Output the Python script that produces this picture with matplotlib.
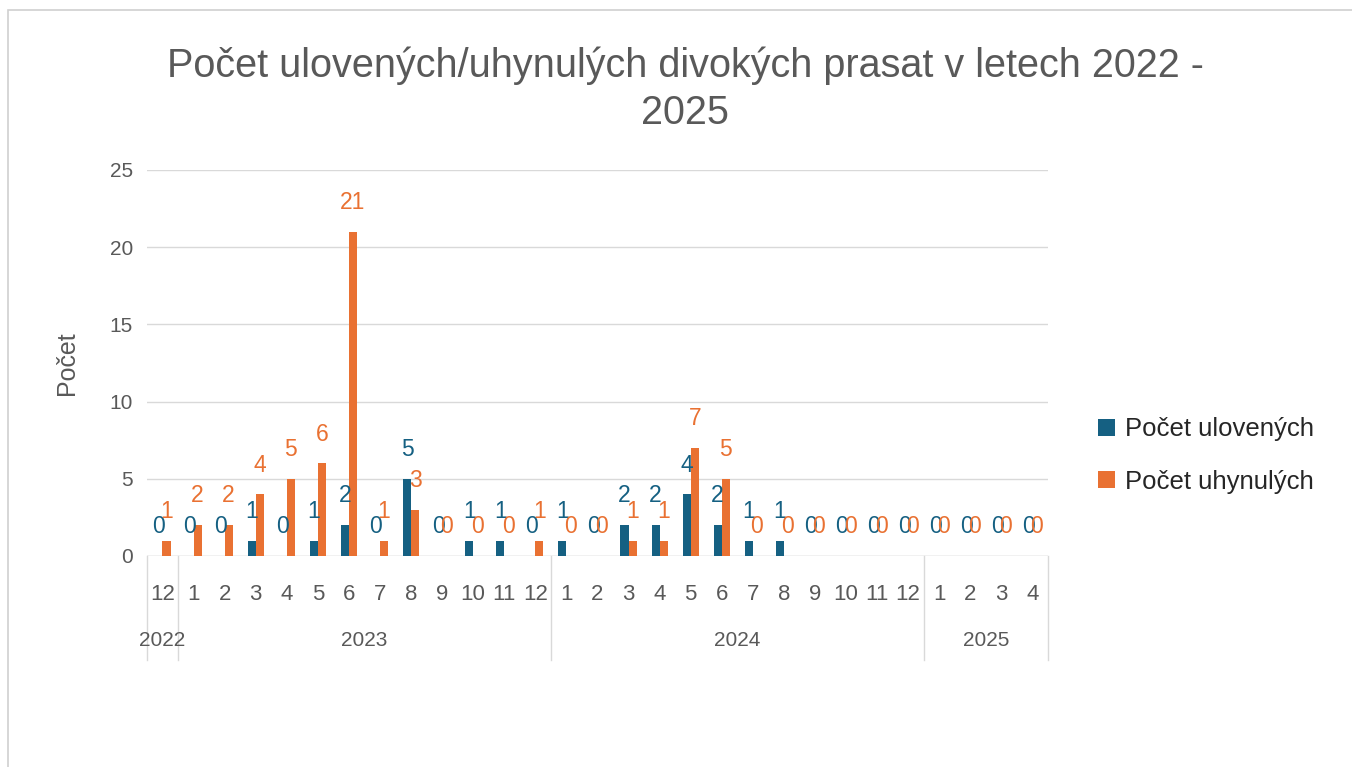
import matplotlib.pyplot as plt
from matplotlib.patches import Rectangle
import numpy as np

# data
mesice = ["12", "1", "2", "3", "4", "5", "6", "7", "8", "9", "10", "11", "12",
          "1", "2", "3", "4", "5", "6", "7", "8", "9", "10", "11", "12",
          "1", "2", "3", "4"]
roky = ["2022", "2023", "2024", "2025"]
pocty_mesicu = [1, 12, 12, 4]

uloveno = [0, 0, 0, 1, 0, 1, 2, 0, 5, 0, 1, 1, 0,
           1, 0, 2, 2, 4, 2, 1, 1, 0, 0, 0, 0,
           0, 0, 0, 0]
uhynulo = [1, 2, 2, 4, 5, 6, 21, 1, 3, 0, 0, 0, 1,
           0, 0, 1, 1, 7, 5, 0, 0, 0, 0, 0, 0,
           0, 0, 0, 0]

modra = "#156082"
oranzova = "#E97132"
seda = "#595959"
mrizka = "#D9D9D9"

pismo = ["Liberation Sans", "DejaVu Sans"]
plt.rcParams["font.family"] = pismo

fig = plt.figure(figsize=(13.52, 7.67), dpi=100)
ax = fig.add_axes([0.1087, 0.2751, 0.6664, 0.5033])

x = np.arange(len(mesice))
sirka = 0.26
ax.bar(x - sirka / 2, uloveno, sirka, color=modra, label="Počet ulovených", zorder=3)
ax.bar(x + sirka / 2, uhynulo, sirka, color=oranzova, label="Počet uhynulých", zorder=3)

# popisky hodnot
for i in range(len(x)):
    ax.annotate(str(uloveno[i]), (x[i] - sirka / 2, uloveno[i]), xytext=(0, 21),
                textcoords="offset points", ha="center", va="center",
                fontsize=16.5, color=modra, zorder=4)
    ax.annotate(str(uhynulo[i]), (x[i] + sirka / 2, uhynulo[i]), xytext=(0, 21),
                textcoords="offset points", ha="center", va="center",
                fontsize=16.5, color=oranzova, zorder=4)

ax.set_xlim(-0.5, len(mesice) - 0.5)
ax.set_ylim(0, 25)
ax.set_yticks([0, 5, 10, 15, 20, 25])
ax.grid(True, axis="y", color=mrizka, linewidth=1, zorder=0)
for s in ax.spines.values():
    s.set_visible(False)
ax.axhline(0, color=mrizka, linewidth=1, zorder=1)
ax.tick_params(axis="y", length=0, pad=10, labelsize=15, labelcolor=seda)
ax.tick_params(axis="x", length=0, pad=20, labelsize=16, labelcolor=seda)
ax.set_xticks(x)
ax.set_xticklabels(mesice)
ax.set_ylabel("Počet", fontsize=18, color=seda, labelpad=22)

# roky pod mesici a delici cary
trans = ax.get_xaxis_transform()
hranice = np.concatenate([[0], np.cumsum(pocty_mesicu)]) - 0.5
for h in hranice:
    ax.plot([h, h], [0, -0.27], transform=trans, color=mrizka, lw=1, clip_on=False)
for r, a, b in zip(roky, hranice[:-1], hranice[1:]):
    ax.text((a + b) / 2, -0.218, r, transform=trans, ha="center", va="center",
            fontsize=15, color=seda)

fig.suptitle("Počet ulovených/uhynulých divokých prasat v letech 2022 -\n2025",
             x=0.507, y=0.94, fontsize=28.5, color=seda, linespacing=1.3)

leg = ax.legend(loc="center left", bbox_to_anchor=(1.03, 0.26), frameon=False,
                fontsize=18.5, handlelength=0.65, handleheight=0.65, handletextpad=0.4,
                labelspacing=1.1)
for t in leg.get_texts():
    t.set_color("#262626")

fig.patches.append(Rectangle((0.006, -0.01), 1.0, 0.997, transform=fig.transFigure,
                             fill=False, edgecolor="#D0D0D0", lw=1.2))

fig.savefig("out.png", dpi=100)
